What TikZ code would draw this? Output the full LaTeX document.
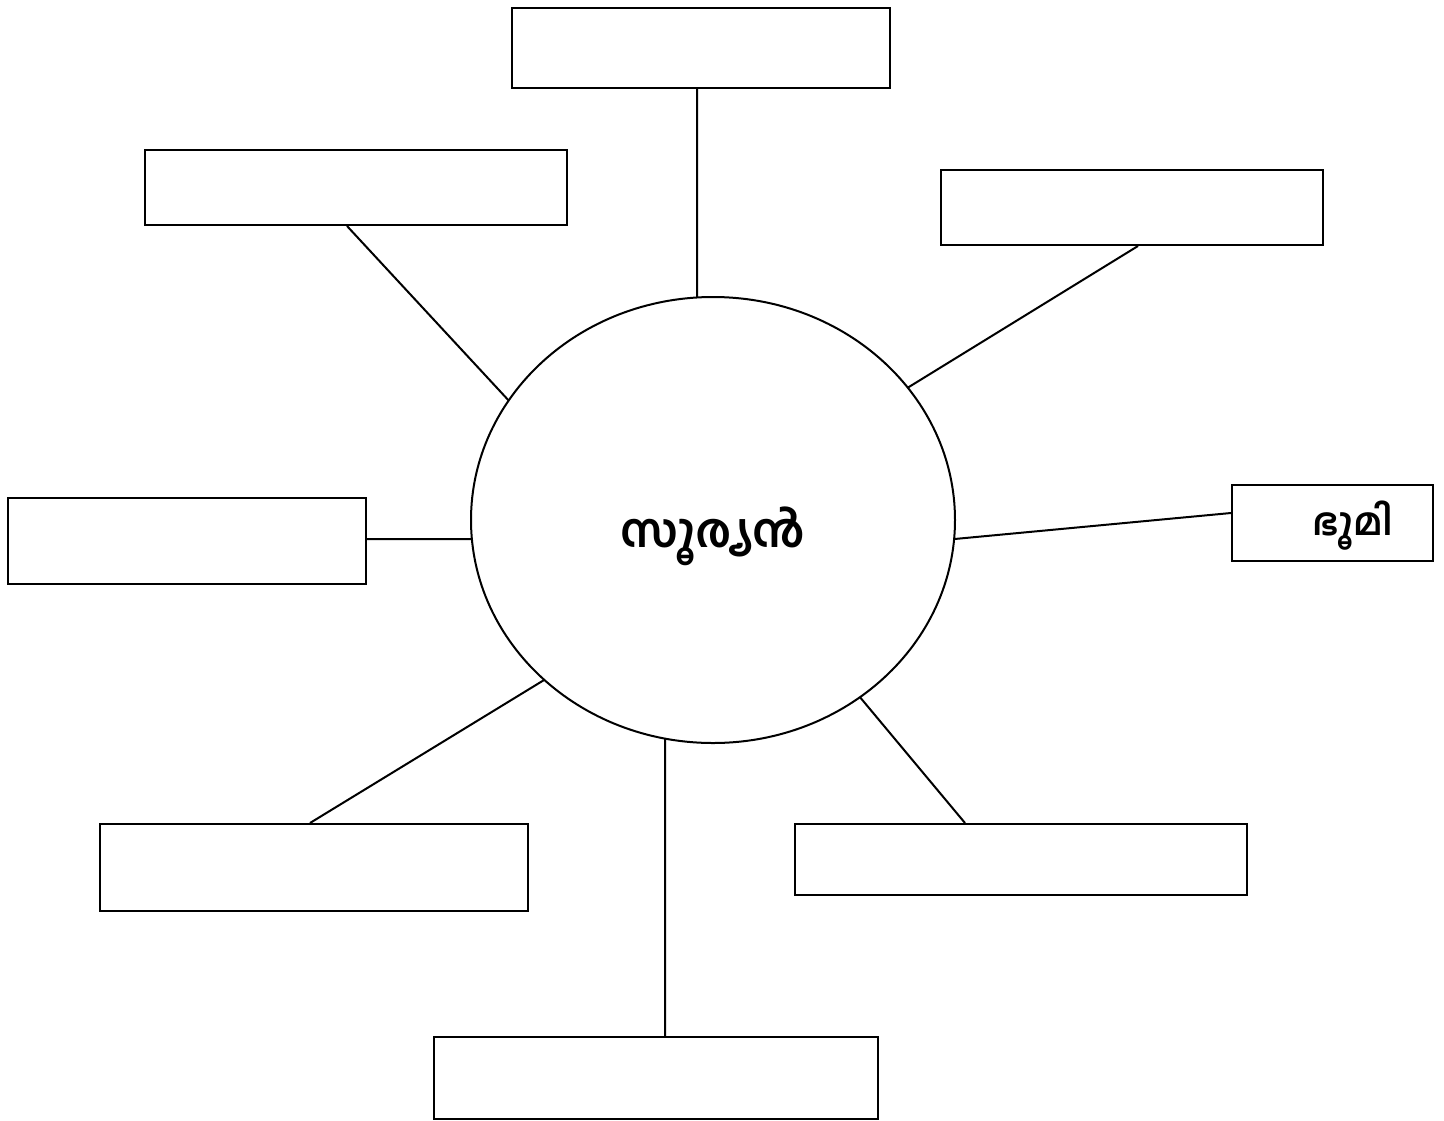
\documentclass[tikz,border=0pt]{standalone}
\usepackage{fontspec}
\newfontfamily\mlfont[Script=Malayalam]{Hind Kochi}
\usetikzlibrary{shapes.geometric}
\begin{document}
\begin{tikzpicture}[x=1pt,y=-1pt,
  box/.style={draw=black,line width=2pt,rectangle,inner sep=0pt,fill=white},
  link/.style={draw=black,line width=2pt}]
\useasboundingbox (0,0) rectangle (1444,1120);
\fill[white] (0,0) rectangle (1444,1120);
\node[draw=black,line width=2pt,ellipse,minimum width=484pt,minimum height=446pt,inner sep=0pt] (sun) at (713,520) {};
\node[font=\mlfont\bfseries\fontsize{47}{56}\selectfont] (suntext) at (713,536) {സൂര്യൻ};
\node[box,minimum width=378pt,minimum height=80pt] (top) at (701,48) {};
\node[box,minimum width=422pt,minimum height=75pt] (ul) at (356,187.5) {};
\node[box,minimum width=382pt,minimum height=75pt] (ur) at (1132,207.5) {};
\node[box,minimum width=358pt,minimum height=86pt] (left) at (187,541) {};
\node[box,minimum width=201pt,minimum height=76pt] (right) at (1332.5,523) {};
\node[font=\mlfont\bfseries\fontsize{38}{46}\selectfont] (bhumi) at (1353,526) {ഭൂമി};
\node[box,minimum width=428pt,minimum height=87pt] (ll) at (314,867.5) {};
\node[box,minimum width=452pt,minimum height=71pt] (lr) at (1021,859.5) {};
\node[box,minimum width=444pt,minimum height=82pt] (bot) at (656,1078) {};
\foreach \n/\t in {stop/93.79,sul/147.6,sur/36.4,sright/-4.9,sleft/184.9,sll/225.8,slr/-52.6,sbot/258.6}
  \coordinate (\n) at ([shift={({242*cos(\t)},{-223*sin(\t)})}]sun.center);
\draw[link] ([xshift=-4pt]top.south) -- (stop);
\draw[link] ([xshift=-9pt]ul.south) -- (sul);
\draw[link] ([xshift=6pt]ur.south) -- (sur);
\draw[link] ([yshift=2pt]left.east) -- (sleft);
\draw[link] ([yshift=10pt]right.west) -- (sright);
\draw[link] ([xshift=-4pt]ll.north) -- (sll);
\draw[link] ([xshift=-56pt]lr.north) -- (slr);
\draw[link] ([xshift=9pt]bot.north) -- (sbot);
\end{tikzpicture}
\end{document}
